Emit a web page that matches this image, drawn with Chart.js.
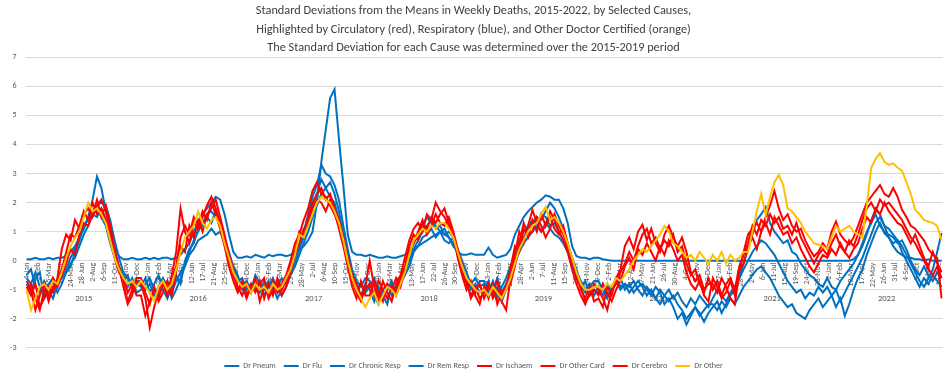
<!DOCTYPE html>
<html>
<head>
<meta charset="utf-8">
<script src="https://cdn.jsdelivr.net/npm/chart.js@4.4.1/dist/chart.umd.min.js"></script>
<style>
  body { margin: 0; background: #fff; }
  #wrap { width: 951px; height: 372px; }
</style>
</head>
<body>
<div id="wrap"><canvas id="chart" width="951" height="372"></canvas></div>
<script>
// ---------- data (one value every 2 weeks, first week ending Sun 4 Jan 2015) ----------
const firstWeek = [2015, 0, 4];
const stepWeeks = 2;
const tickEveryWeeks = 5;
const monthNames = ["Jan","Feb","Mar","Apr","May","Jun","Jul","Aug","Sep","Oct","Nov","Dec"];
const yearLabels = ["2015","2016","2017","2018","2019","2020","2021","2022"];
const yearStartWeeks = [0, 52, 104, 157, 209, 261, 313, 365, 417];

const drPneum = [
  -0.6,-0.8,-0.4,-0.9,-1.2,-0.8,-0.6,-0.9,-0.5,-0.3,0.1,0.4,0.8,1.1,1.5,1.7,1.9,2.0,1.9,1.4,0.7,0.1,-0.4,-0.6,-0.9,-0.7,
  -0.7,-1.0,-0.8,-1.2,-0.9,-0.6,-0.9,-1.1,-0.7,-0.4,-0.1,0.3,0.7,1.0,1.3,1.6,1.7,1.5,1.2,0.7,0.2,-0.3,-0.6,-0.9,-0.7,-1.0,
  -0.5,-0.8,-1.0,-0.7,-1.1,-0.9,-0.6,-0.8,-0.3,0.1,0.5,1.0,1.6,2.2,2.6,3.3,3.0,2.9,2.6,2.1,1.2,0.4,-0.3,-0.7,-0.9,-0.6,
  -0.7,-1.2,-1.5,-1.0,-0.8,-1.2,-0.9,-0.6,-0.3,0.2,0.6,0.9,1.2,1.5,1.3,1.1,1.2,0.9,1.0,0.8,0.4,0.0,-0.4,-0.8,-0.6,-0.9,
  -0.8,-1.1,-0.7,-1.3,-0.9,-0.6,-0.2,0.3,0.7,1.0,1.2,1.4,1.3,1.6,1.5,1.2,1.3,1.0,0.7,0.4,0.0,-0.4,-0.7,-1.0,-0.8,-1.2,
  -0.9,-1.2,-0.8,-1.1,-0.7,-1.0,-0.8,-0.9,-0.7,-1.0,-1.2,-0.9,-1.1,-1.3,-1.0,-1.2,-1.4,-1.2,-1.5,-1.7,-2.0,-1.8,-1.6,-1.9,-1.7,-1.5,
  -1.5,-1.7,-1.4,-1.6,-1.3,-1.5,-1.2,-0.9,-0.7,-0.5,-0.3,-0.2,-0.4,-0.6,-0.9,-1.2,-1.4,-1.6,-1.5,-1.8,-1.9,-2.0,-1.7,-1.5,-1.3,-1.6,
  -1.4,-1.2,-1.6,-1.3,-1.9,-1.5,-1.0,-0.6,-0.3,0.2,0.6,1.0,1.3,0.95,0.8,0.6,0.7,0.3,0.0,-0.3,-0.6,-0.9,-0.6,-0.8,-0.5,-0.7,-0.9
];
const drFlu = [
  0.05,0.05,0.1,0.05,0.05,0.1,0.05,0.1,0.1,0.15,0.3,0.5,0.8,1.1,1.5,2.1,2.9,2.5,1.7,1.1,0.5,0.15,0.05,0.05,0.1,0.05,
  0.05,0.1,0.05,0.1,0.05,0.1,0.1,0.05,0.1,0.2,0.4,0.6,1.0,1.3,1.6,1.8,2.0,2.2,2.1,1.6,0.9,0.3,0.1,0.1,0.15,0.1,
  0.2,0.15,0.1,0.2,0.15,0.2,0.2,0.15,0.2,0.3,0.4,0.5,0.7,1.0,2.0,3.4,4.5,5.6,5.9,4.2,2.6,0.9,0.3,0.2,0.2,0.15,
  0.2,0.15,0.1,0.1,0.15,0.1,0.1,0.15,0.2,0.3,0.4,0.5,0.6,0.7,0.8,0.9,1.0,0.9,0.8,0.5,0.3,0.2,0.2,0.25,0.2,0.2,
  0.2,0.45,0.2,0.1,0.15,0.2,0.4,0.9,1.2,1.5,1.7,1.85,2.0,2.1,2.25,2.2,2.1,2.1,1.8,1.3,0.5,0.15,0.1,0.1,0.05,0.1,
  0.1,0.05,0.02,0,0,0,0,0,0,0,0,0,0,0,0,0,0,0,0,0,0,0,0,0,0,0,
  0,0,0,0,0,0,0,0,0,0,0,0,0,0,0,0,0,0,0,0,0,0,0,0,0,0,
  0,0,0,0,0,0,0.05,0.2,0.5,0.9,1.4,1.75,1.6,1.2,0.8,0.5,0.3,0.2,0.1,0.1,0.05,0.05,0,0.05,0,0,0
];
const drChronicResp = [
  -0.5,-0.3,-0.9,-1.1,-0.7,-1.0,-1.3,-0.8,-0.6,-0.4,-0.2,0.3,0.7,1.2,1.4,1.6,1.8,1.5,1.2,0.6,0.1,-0.3,-0.7,-0.5,-1.0,-0.8,
  -0.9,-0.6,-1.1,-0.8,-0.5,-1.0,-1.3,-0.9,-0.5,-0.8,0.0,0.4,0.6,1.1,1.2,1.5,1.3,1.7,1.3,0.8,0.3,-0.2,-0.5,-1.0,-0.8,-1.1,
  -0.8,-1.1,-0.7,-1.2,-0.9,-1.3,-1.0,-0.6,-0.4,-0.1,0.4,0.8,1.3,1.9,2.3,2.8,2.5,2.7,2.3,1.7,0.9,0.2,-0.5,-0.9,-1.2,-0.8,
  -1.0,-1.4,-0.9,-1.2,-1.5,-0.8,-1.1,-0.7,-0.4,0.0,0.4,0.7,1.0,1.2,1.4,1.2,1.0,1.1,0.8,0.6,0.3,-0.2,-0.6,-1.0,-0.8,-1.1,
  -1.0,-0.7,-1.2,-0.9,-1.4,-1.0,-0.5,0.0,0.5,0.8,1.1,1.3,1.5,1.4,1.7,2.0,1.8,1.5,1.1,0.6,0.1,-0.3,-0.8,-1.1,-0.9,-0.7,
  -0.7,-1.0,-1.3,-0.9,-0.6,-0.9,-0.8,-1.1,-0.9,-0.7,-0.9,-1.2,-1.0,-1.3,-1.5,-1.2,-1.0,-1.3,-1.1,-1.4,-1.6,-1.3,-1.5,-1.2,-1.4,-1.6,
  -1.3,-1.0,-1.2,-1.4,-1.1,-0.9,-0.6,-0.3,0.0,0.3,0.5,0.7,0.6,0.4,0.2,-0.1,-0.4,-0.7,-0.9,-1.1,-1.0,-1.3,-1.1,-1.2,-0.9,-1.1,
  -0.9,-1.2,-1.0,-1.4,-1.1,-0.8,-0.5,-0.2,0.1,0.5,0.9,1.3,1.5,1.2,1.1,0.9,0.7,0.5,0.2,-0.1,-0.4,-0.7,-0.9,-0.6,-0.3,0.3,0.95
];
const drRemResp = [
  -0.8,-1.1,-0.6,-0.4,-1.3,-1.0,-0.7,-1.1,-0.8,-0.4,-0.1,0.1,0.5,0.9,1.2,1.6,1.5,1.8,1.4,0.9,0.3,-0.2,-0.5,-0.9,-0.6,-1.1,
  -1.0,-0.8,-0.6,-1.0,-1.2,-0.8,-0.7,-1.3,-1.0,-0.6,-0.2,0.2,0.4,0.7,0.8,0.9,1.1,0.9,1.0,0.6,0.1,-0.4,-0.7,-0.6,-1.0,-0.8,
  -1.0,-0.7,-1.2,-0.9,-0.6,-1.0,-1.2,-0.9,-0.5,-0.2,0.2,0.6,1.0,1.5,1.9,2.3,2.5,2.2,2.0,1.4,0.7,0.0,-0.6,-1.0,-0.8,-1.1,
  -0.9,-0.6,-1.1,-1.3,-1.0,-0.7,-1.2,-0.8,-0.5,-0.2,0.3,0.5,0.8,0.9,1.1,0.8,1.0,0.7,0.6,0.8,0.2,-0.3,-0.7,-0.9,-1.1,-0.7,
  -0.7,-1.2,-1.0,-0.6,-1.1,-0.8,-0.4,-0.1,0.3,0.6,0.8,1.0,1.2,1.0,1.3,1.1,0.9,0.8,0.6,0.3,-0.2,-0.6,-0.9,-0.7,-1.2,-1.0,
  -1.1,-0.8,-1.2,-1.0,-0.8,-0.6,-1.0,-0.8,-1.1,-0.9,-0.8,-1.0,-1.2,-0.9,-1.1,-1.5,-1.3,-1.6,-2.0,-1.8,-2.2,-1.9,-1.6,-1.8,-2.1,-1.8,
  -1.6,-1.4,-1.8,-1.5,-1.2,-1.0,-0.6,-0.1,0.4,0.9,1.4,1.6,1.85,1.3,1.0,0.8,0.6,0.7,0.3,0.2,-0.1,-0.3,-0.5,-0.6,-0.8,-0.9,
  -0.6,-0.9,-1.0,-0.7,-0.5,-0.3,-0.1,0.2,0.6,1.0,1.3,1.6,1.2,1.0,0.9,0.8,0.6,0.7,0.4,0.0,-0.3,-0.5,-0.2,-0.5,-0.7,-0.4,-0.6
];
const drIschaem = [
  -0.9,-1.2,-0.8,-1.6,-1.3,-0.9,-1.1,-0.6,0.4,0.9,0.7,1.4,1.1,1.6,1.8,1.5,1.9,2.1,1.7,1.0,0.3,-0.3,-0.8,-1.4,-1.0,-0.7,
  -0.8,-1.3,-2.3,-1.6,-1.0,-0.7,-1.2,-0.5,0.3,1.8,1.0,0.6,1.3,1.1,1.5,1.9,2.2,1.8,1.3,0.7,0.0,-0.5,-0.9,-1.2,-0.8,-1.1,
  -0.6,-1.4,-0.9,-1.2,-0.7,-1.1,-0.8,-0.5,0.0,0.6,0.9,1.4,1.8,2.4,2.7,2.3,2.2,1.9,1.6,1.2,0.6,-0.1,-0.7,-1.1,-1.4,-0.9,
  0.0,-0.9,-1.3,-0.7,-1.1,-1.4,-0.8,-0.5,0.1,0.7,1.1,1.3,1.0,1.6,1.4,2.0,1.7,1.5,1.2,0.8,0.2,-0.4,-0.8,-1.2,-0.9,-1.3,
  -1.1,-0.8,-1.3,-1.0,-1.4,-1.7,-0.6,0.2,1.0,0.6,1.2,1.75,1.3,1.0,1.2,1.5,1.1,0.9,1.2,0.6,0.0,-0.5,-1.0,-1.3,-0.9,-1.4,
  -1.3,-1.6,-0.9,-1.2,-0.6,-0.3,0.5,0.8,0.4,1.0,1.24,0.7,1.1,0.6,0.3,0.9,1.2,0.8,0.5,0.8,0.3,-0.4,-0.7,-0.5,-1.0,-0.8,
  -0.8,-1.1,-0.6,-0.9,-1.3,-1.5,-0.4,0.3,0.9,1.1,1.3,1.0,1.5,1.9,2.4,1.8,1.4,1.6,1.2,1.0,1.1,0.7,0.4,0.15,0.3,0.6,
  0.4,1.0,1.35,0.9,0.7,0.55,0.8,1.2,1.6,2.0,2.2,2.4,2.6,2.3,2.2,2.5,2.2,1.75,1.5,1.2,1.1,0.9,0.7,0.4,0.2,0.1,-1.3
];
const drOtherCard = [
  -0.7,-1.0,-1.7,-1.2,-0.8,-1.4,-0.9,-0.7,-0.3,0.3,0.9,0.8,1.2,1.7,1.4,2.0,1.6,1.8,1.4,0.8,0.1,-0.4,-0.6,-1.1,-0.8,-1.2,
  -1.2,-1.9,-1.4,-1.0,-1.3,-0.8,-1.1,-0.6,-0.2,0.8,1.2,0.9,1.5,1.2,1.7,1.4,2.0,1.6,1.1,0.5,-0.2,-0.7,-1.1,-0.8,-1.3,-0.9,
  -0.9,-0.7,-1.3,-0.8,-1.2,-0.6,-1.0,-0.7,-0.2,0.3,1.0,0.8,1.5,2.0,2.3,2.5,2.1,2.3,1.8,1.4,0.8,0.1,-0.5,-0.8,-1.2,-1.0,
  -0.8,-1.2,-0.7,-1.0,-1.3,-0.9,-1.1,-0.6,-0.2,0.5,0.9,0.7,1.3,1.1,1.5,1.3,1.6,1.8,1.3,0.9,0.1,-0.5,-1.0,-0.7,-1.2,-1.5,
  -0.9,-1.3,-0.8,-1.5,-1.1,-0.9,-0.3,0.5,0.3,1.1,0.8,1.4,1.0,1.6,1.2,1.7,1.4,1.0,0.7,0.3,-0.3,-0.8,-1.2,-1.5,-1.1,-0.8,
  -1.0,-1.3,-1.7,-1.0,-0.8,-0.4,-0.1,0.3,0.0,0.5,0.9,1.1,0.6,0.8,0.4,0.7,0.5,0.9,0.3,0.5,-0.1,-0.5,-0.3,-0.8,-1.1,-0.6,
  -1.0,-0.7,-1.2,-0.8,-0.6,-1.0,-0.2,0.2,0.6,1.2,0.9,1.4,1.2,1.6,1.3,1.5,1.1,1.2,0.9,1.3,0.8,0.5,0.2,-0.1,0.2,0.4,
  0.2,0.6,0.9,0.5,0.3,0.7,0.5,0.9,1.4,1.8,2.0,1.7,2.1,1.9,2.0,1.8,1.6,1.4,1.1,0.8,0.6,0.3,0.0,-0.3,-0.5,-0.2,-0.6
];
const drCerebro = [
  -1.1,-0.8,-1.3,-1.7,-1.0,-1.2,-0.6,-0.9,-0.5,-0.1,0.4,0.2,0.9,1.3,1.2,1.6,2.1,1.5,1.9,1.2,0.4,-0.2,-0.9,-1.5,-1.2,-0.6,
  -0.6,-1.1,-1.5,-0.9,-1.4,-1.1,-0.7,-1.2,-0.4,0.5,0.3,1.2,0.8,1.4,1.0,1.6,1.8,2.1,1.5,0.9,0.2,-0.3,-1.0,-0.7,-1.2,-0.8,
  -1.1,-0.8,-0.6,-1.3,-1.0,-0.8,-1.2,-0.9,-0.4,0.2,0.6,1.1,1.2,1.8,2.1,2.0,1.7,2.1,1.7,1.1,0.5,-0.2,-0.9,-1.3,-0.7,-1.2,
  -1.2,-0.7,-1.1,-1.4,-0.8,-1.0,-0.6,-0.9,-0.3,0.3,0.6,1.0,1.4,0.9,1.2,1.6,1.3,1.2,1.5,1.0,0.4,-0.2,-0.7,-1.3,-1.0,-0.8,
  -1.3,-0.9,-1.1,-0.7,-1.2,-1.0,-0.8,-0.2,0.6,1.3,0.9,1.0,1.5,1.2,0.8,1.1,1.6,1.2,0.9,0.5,0.1,-0.6,-0.9,-1.4,-1.2,-1.0,
  -1.2,-0.8,-1.1,-1.4,-1.0,-0.7,-0.2,0.1,-0.3,0.4,0.2,0.6,0.3,0.0,0.5,0.2,0.7,0.4,0.0,0.2,-0.4,-0.8,-1.0,-0.7,-1.2,-1.4,
  -0.6,-0.9,-1.3,-1.1,-0.7,-1.2,-0.3,-0.1,0.5,0.8,0.4,1.0,1.3,0.9,1.5,1.2,0.9,1.0,0.6,0.8,0.4,0.1,-0.2,-0.4,-0.1,0.2,
  0.1,0.4,0.2,0.6,0.3,0.1,0.4,0.6,1.1,1.5,1.3,1.8,1.6,2.0,1.7,1.5,1.3,1.2,0.9,0.6,0.9,0.5,0.1,-0.2,0.3,-0.1,-0.4
];
const drOther = [
  -1.0,-1.7,-1.3,-0.9,-0.8,-1.0,-0.7,-0.8,-0.4,0.1,0.5,0.8,1.0,1.5,2.0,1.7,1.8,1.6,1.3,0.7,0.1,-0.3,-0.6,-0.8,-0.7,-0.9,
  -0.7,-0.9,-1.1,-1.4,-0.9,-0.7,-1.0,-0.8,-0.3,0.3,0.8,1.0,1.2,1.7,1.3,1.1,1.4,1.5,1.2,0.6,0.1,-0.4,-0.7,-0.9,-0.8,-1.1,
  -0.8,-1.0,-0.9,-1.1,-0.8,-1.0,-0.9,-0.6,-0.3,0.2,0.9,0.8,1.2,1.6,2.0,2.2,2.1,2.0,1.7,1.3,0.7,0.0,-0.6,-1.0,-1.3,-1.6,
  -1.3,-1.1,-1.5,-1.2,-0.9,-1.0,-1.2,-0.8,-0.4,0.2,0.7,0.9,1.1,1.0,1.2,1.1,1.3,1.3,1.1,0.8,0.3,-0.2,-0.6,-0.8,-1.0,-1.1,
  -1.0,-1.2,-0.9,-1.1,-1.3,-1.0,-0.6,-0.1,0.4,0.7,1.0,1.2,1.3,1.6,1.85,1.4,1.5,1.3,1.0,0.6,0.1,-0.4,-0.8,-1.0,-1.0,-0.9,
  -0.9,-1.0,-0.8,-0.9,-0.6,-0.7,-0.5,-0.3,0.0,0.2,0.4,0.3,0.5,0.7,0.9,1.2,1.0,0.6,0.5,0.3,0.1,0.2,0.0,0.3,0.1,-0.1,
  0.2,0.0,0.3,-0.1,0.2,0.0,0.1,0.3,0.3,1.0,1.7,2.3,1.55,2.2,2.7,2.95,2.6,1.8,1.7,1.5,1.3,1.0,0.8,0.6,0.55,0.5,
  0.4,0.8,1.2,1.0,1.1,1.2,1.0,0.9,0.8,1.9,3.2,3.5,3.7,3.4,3.3,3.35,3.2,3.1,2.7,2.3,1.75,1.6,1.4,1.35,1.3,1.2,0.7
];

const seriesNames = ["Dr Pneum","Dr Flu","Dr Chronic Resp","Dr Rem Resp","Dr Ischaem","Dr Other Card","Dr Cerebro","Dr Other"];
const seriesValues = [drPneum, drFlu, drChronicResp, drRemResp, drIschaem, drOtherCard, drCerebro, drOther];
const seriesColors = ["#0070C0","#0070C0","#0070C0","#0070C0","#FF0000","#FF0000","#FF0000","#FFC000"];

const titleLines = [
  "Standard Deviations from the Means in Weekly Deaths, 2015-2022, by Selected Causes,",
  "Highlighted by Circulatory (red), Respiratory (blue), and Other Doctor Certified (orange)",
  "The Standard Deviation for each Cause was determined over the 2015-2019 period"
];

// ---------- helpers ----------
const textColor = "#595959";
const fontFamily = "Carlito, Calibri, 'Liberation Sans', Arial, sans-serif";
const lastWeek = yearStartWeeks[yearStartWeeks.length - 1];

function weekLabel(w) {
  const d = new Date(firstWeek[0], firstWeek[1], firstWeek[2] + 7 * w);
  return d.getDate() + "-" + monthNames[d.getMonth()];
}

const dateTicks = [];
for (let w = 0; w < lastWeek; w += tickEveryWeeks) dateTicks.push(w);

const yearTicks = yearLabels.map((_, i) => (yearStartWeeks[i] + yearStartWeeks[i + 1]) / 2);

const datasets = seriesNames.map((name, i) => ({
  label: name,
  data: seriesValues[i].map((v, k) => ({ x: k * stepWeeks, y: v })),
  borderColor: seriesColors[i],
  backgroundColor: seriesColors[i],
  borderWidth: 2,
  pointRadius: 0,
  tension: 0,
  order: seriesNames.length - i, // later series drawn on top, as in Excel
  xAxisID: "x",
  yAxisID: "y",
}));

new Chart(document.getElementById("chart"), {
  type: "line",
  data: { datasets },
  options: {
    responsive: false,
    animation: false,
    devicePixelRatio: 1,
    layout: { padding: { left: 1, right: 5, top: 0, bottom: -8 } },
    plugins: {
      title: {
        display: true,
        text: titleLines,
        color: "#404040",
        font: { family: fontFamily, size: 12.3, weight: "normal", lineHeight: 1.5 },
        padding: { top: 2, bottom: 0 },
      },
      legend: {
        position: "bottom",
        // empty legend title only adds a little space above the items
        title: { display: true, text: "", font: { size: 1 }, padding: { top: 5, bottom: 0 } },
        labels: {
          usePointStyle: true,
          pointStyle: "line",
          pointStyleWidth: 15,
          color: textColor,
          font: { family: fontFamily, size: 8 },
          padding: 8,
          sort: (a, b) => a.datasetIndex - b.datasetIndex,
        },
      },
      tooltip: { enabled: false },
    },
    scales: {
      y: {
        min: -3,
        max: 7,
        ticks: { stepSize: 1, color: textColor, font: { family: fontFamily, size: 8 }, padding: 9 },
        grid: { color: "#d9d9d9", drawTicks: false },
        border: { display: false },
      },
      x: {
        type: "linear",
        position: { y: 0 },
        min: -0.5,
        max: lastWeek - 0.5,
        afterBuildTicks: (s) => { s.ticks = dateTicks.map((v) => ({ value: v })); },
        ticks: {
          autoSkip: false,
          minRotation: 90,
          maxRotation: 90,
          color: textColor,
          font: { family: fontFamily, size: 8 },
          padding: 2,
          callback: (v) => weekLabel(v),
        },
        grid: { display: false, drawTicks: false },
        border: { display: false },
      },
      xYear: {
        type: "linear",
        axis: "x",
        position: { y: 0 },
        min: -0.5,
        max: lastWeek - 0.5,
        afterBuildTicks: (s) => { s.ticks = yearTicks.map((v) => ({ value: v })); },
        ticks: {
          autoSkip: false,
          maxRotation: 0,
          color: textColor,
          font: { family: fontFamily, size: 8.5 },
          padding: 33,
          callback: (v, i) => yearLabels[i],
        },
        grid: { display: false, drawTicks: false },
        border: { display: false },
      },
    },
  },
});
</script>
</body>
</html>
